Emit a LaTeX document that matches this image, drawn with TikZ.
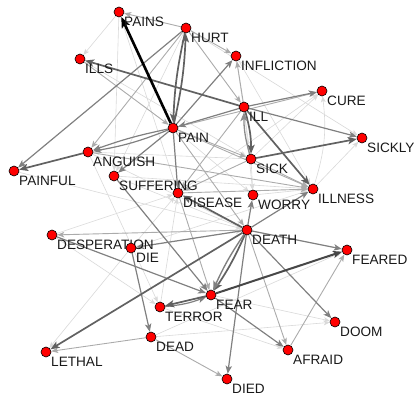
\documentclass[tikz,border=0pt]{standalone}
\usepackage{fontspec}
\setmainfont{Liberation Sans}
\usetikzlibrary{arrows.meta,calc}
\begin{document}
\begin{tikzpicture}[x=1pt,y=-1pt,
  vtx/.style={circle,draw=black,fill=red,line width=0.6pt,minimum size=10pt,inner sep=0pt},
  lbl/.style={anchor=north west,inner sep=0pt,text=black!90,font=\fontsize{13.6}{13.6}\selectfont},
  edge/.style={-{Stealth[length=#1,width=0.8*#1,inset=0.25*#1]}},
  e1/.style={edge=11pt,draw=black,line width=2.6pt},
  e2/.style={edge=9pt,draw=black!62,line width=1.7pt},
  e3/.style={edge=8pt,draw=black!50,line width=1.2pt},
  e4/.style={edge=7pt,draw=black!33,line width=0.9pt},
  e5/.style={edge=6pt,draw=black!15,line width=0.6pt}]
\path[use as bounding box] (0,0) rectangle (416,396);

% vertices
\foreach \n/\x/\y in {PAINS/119/12, HURT/186/28, INFLICTION/236/56, ILLS/80/59,
  CURE/322/91, ILL/244/107, PAIN/173/128, SICKLY/362/138, ANGUISH/88/152,
  SICK/251/159, PAINFUL/14/171, SUFFERING/114/176, ILLNESS/313/189,
  DISEASE/178/193, WORRY/253/195, DEATH/247/230, DESPERATION/52/235,
  DIE/131/248, FEARED/347/250, FEAR/211/295, TERROR/160/307, DOOM/335/322,
  DEAD/151/337, AFRAID/288/350, LETHAL/46/352, DIED/227/379}
  \coordinate (p\n) at (\x,\y);
\foreach \n in {PAINS,HURT,INFLICTION,ILLS,CURE,ILL,PAIN,SICKLY,ANGUISH,SICK,
  PAINFUL,SUFFERING,ILLNESS,DISEASE,WORRY,DEATH,DESPERATION,DIE,FEARED,FEAR,
  TERROR,DOOM,DEAD,AFRAID,LETHAL,DIED}
  \node[vtx,draw=none,fill=none] (\n) at (p\n) {};

% weak links
\foreach \a/\b in {PAINS/ILLS, PAINS/SUFFERING, HURT/SUFFERING, INFLICTION/ILLNESS,
  SICK/CURE, DISEASE/CURE, ILLNESS/SICKLY, WORRY/ILLNESS, SUFFERING/ILLNESS,
  DIE/DISEASE, DESPERATION/DISEASE, TERROR/DISEASE, SICK/WORRY, SICK/ANGUISH,
  FEAR/DOOM, DEAD/DOOM, TERROR/AFRAID, DIE/LETHAL, DESPERATION/TERROR,
  PAINFUL/DEATH, ILLS/SICK, PAINS/DISEASE, HURT/SICKLY, INFLICTION/SICK,
  ANGUISH/DEATH, SUFFERING/DEATH, DIE/ILLNESS, DEAD/FEARED, ANGUISH/TERROR,
  PAIN/WORRY, ILL/WORRY, DIE/DEATH}
  \draw[e5] (\a) -- (\b);
\draw[e5] (ILLNESS) to[bend right=12] (CURE);

% moderate links
\foreach \a/\b in {HURT/PAINS, HURT/INFLICTION, HURT/ILL, HURT/ANGUISH,
  ILL/INFLICTION, PAIN/CURE, PAIN/ILLNESS, PAIN/SICK, SICK/ILLNESS,
  DISEASE/ILLNESS, ANGUISH/ILLNESS, DEATH/DESPERATION, DEAD/LETHAL, DEAD/DIED,
  AFRAID/FEARED, DISEASE/FEAR, DEATH/AFRAID, ILL/DISEASE, SICK/DISEASE,
  PAIN/DEATH, ILLS/PAIN}
  \draw[e4] (\a) -- (\b);

% strong links
\foreach \a/\b in {HURT/PAINFUL, ILL/SICKLY, ILL/CURE, PAIN/INFLICTION,
  PAIN/SUFFERING, PAIN/DISEASE, DEATH/WORRY, DEATH/ILLNESS, DEATH/FEARED,
  DEATH/DOOM, DEATH/DIED, DEATH/DIE, FEAR/AFRAID, SUFFERING/FEAR,
  DESPERATION/FEAR, DIE/DEAD, ILL/PAIN}
  \draw[e3] (\a) -- (\b);
\draw[e3] (PAIN) to[bend left=6] (ANGUISH);
\draw[e3] (PAIN) to[bend right=4] (ANGUISH);
\draw[e3] (TERROR) to[bend right=8] (FEAR);

% strongest links
\draw[e2] (PAIN) to[bend right=5] (HURT);
\draw[e2] (HURT) to[bend right=5] (PAIN);
\draw[e2] (ILL) to[bend left=8] (SICK);
\draw[e2,draw=black!45,line width=1.3pt] (SICK) to[bend left=8] (ILL);
\foreach \a/\b in {ANGUISH/PAINFUL, ILL/ILLS, ILL/ILLNESS, SICK/SICKLY,
  FEAR/TERROR, DEATH/LETHAL, DEATH/DISEASE}
  \draw[e2] (\a) -- (\b);
\draw[e2] (DEATH) to[bend left=5] (FEAR);
\draw[e2,draw=black!50,line width=1.4pt] (DEATH) to[bend right=5] (FEAR);
\draw[e2,draw=black!72,line width=2pt] (FEAR) -- (FEARED);
\draw[e1] (PAIN) -- (PAINS);

% vertex discs and labels
\foreach \n in {PAINS,HURT,INFLICTION,ILLS,CURE,ILL,PAIN,SICKLY,ANGUISH,SICK,
  PAINFUL,SUFFERING,ILLNESS,DISEASE,WORRY,DEATH,DESPERATION,DIE,FEARED,FEAR,
  TERROR,DOOM,DEAD,AFRAID,LETHAL,DIED}{
  \node[vtx] at (p\n) {};
  \node[lbl] (l\n) at ($(p\n)+(5,5.2)$) {\n};
}
\end{tikzpicture}
\end{document}
